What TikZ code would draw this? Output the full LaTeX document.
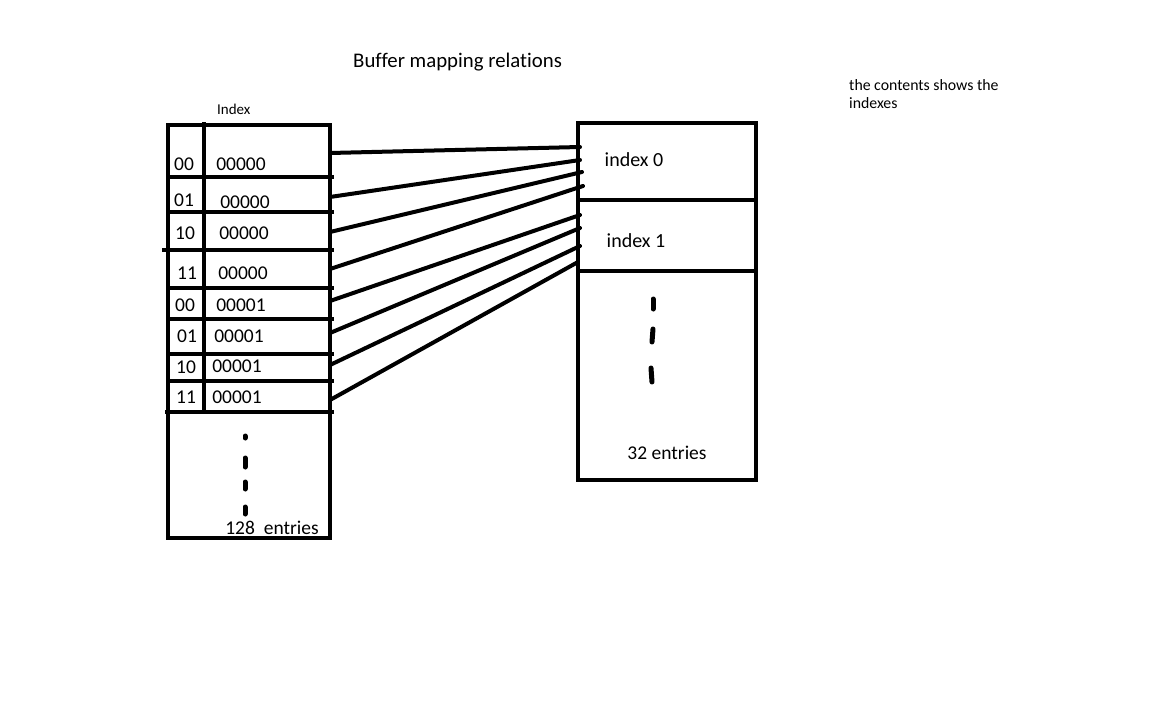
\documentclass[tikz,border=0pt]{standalone}
\usepackage{fontspec}
\setmainfont{Carlito}[Ligatures=NoCommon]
\begin{document}
\begin{tikzpicture}[x=1pt,y=-1pt,
  box/.style={line width=4.5pt},
  conn/.style={line width=4pt, line cap=round},
  dashmark/.style={line width=5pt, line cap=round},
  cell/.style={inner sep=0pt, font=\fontsize{19.5}{22}\selectfont},
  idx/.style={inner sep=0pt, font=\fontsize{20}{24}\selectfont},
  note/.style={inner sep=0pt, anchor=base west, font=\fontsize{15.8}{18}\selectfont}]
\useasboundingbox (0,0) rectangle (1152,720);
\fill[white] (0,0) rectangle (1152,720);

% title and note
\node[inner sep=0pt, anchor=base west, font=\fontsize{20.8}{24}\selectfont] (title) at (353,67) {Buffer mapping relations};
\node[note] (note1) at (849,90) {the contents shows the};
\node[note] (note2) at (849,108) {indexes};
\node[inner sep=0pt, anchor=base west, font=\fontsize{15}{18}\selectfont] (indexhead) at (217,114) {Index};

% left table
\draw[box] (168,125) rectangle (330,538);
\draw[box] (204,122) -- (204,414);
\foreach \y/\xl in {177/168,212/168,250/162,288/168,319/166,354/168,381/168,412/165}
  \draw[box] (\xl,\y) -- (334,\y);

\node[cell] (a1) at (184,164) {00}; \node[cell] (b1) at (241,164) {00000};
\node[cell] (a2) at (184,200) {01}; \node[cell] (b2) at (245,202) {00000};
\node[cell] (a3) at (185,233) {10}; \node[cell] (b3) at (244,233) {00000};
\node[cell] (a4) at (187,273) {11}; \node[cell] (b4) at (243,273) {00000};
\node[cell] (a5) at (185,305) {00}; \node[cell] (b5) at (241,305) {00001};
\node[cell] (a6) at (187,336) {01}; \node[cell] (b6) at (239,336) {00001};
\node[cell] (a7) at (186,367) {10}; \node[cell] (b7) at (237,366) {00001};
\node[cell] (a8) at (186,397) {11}; \node[cell] (b8) at (237,397) {00001};

\draw[dashmark] (245,436) -- (245,438);
\draw[dashmark] (245,458) -- (245,467);
\draw[dashmark] (245,482) -- (245,489);
\draw[dashmark] (245,507) -- (245,514);
\node[cell] (left entries) at (272,528) {128\ \ entries};

% right table
\draw[box] (578,123) rectangle (756,480);
\draw[box] (578,200) -- (758,200);
\draw[box] (578,271) -- (758,271);
\node[idx] (i0) at (634,160) {index 0};
\node[idx] (i1) at (636,241) {index 1};
\draw[dashmark] (653,299) -- (653,309);
\draw[dashmark] (653,329) -- (652,342);
\draw[dashmark] (651,368) -- (652,382);
\node[cell] (right entries) at (667,453) {32 entries};

% connectors
\coordinate (L1) at (330,153); \coordinate (R1) at (580,147);
\coordinate (L2) at (330,197); \coordinate (R2) at (580,160);
\coordinate (L3) at (330,232); \coordinate (R3) at (582,172);
\coordinate (L4) at (330,269); \coordinate (R4) at (583,186);
\coordinate (L5) at (330,301); \coordinate (R5) at (580,215);
\coordinate (L6) at (330,333); \coordinate (R6) at (580,228);
\coordinate (L7) at (330,365); \coordinate (R7) at (580,246);
\coordinate (L8) at (330,400); \coordinate (R8) at (578,262);
\foreach \i in {1,...,8}
  \draw[conn] (L\i) -- (R\i);
\end{tikzpicture}
\end{document}
